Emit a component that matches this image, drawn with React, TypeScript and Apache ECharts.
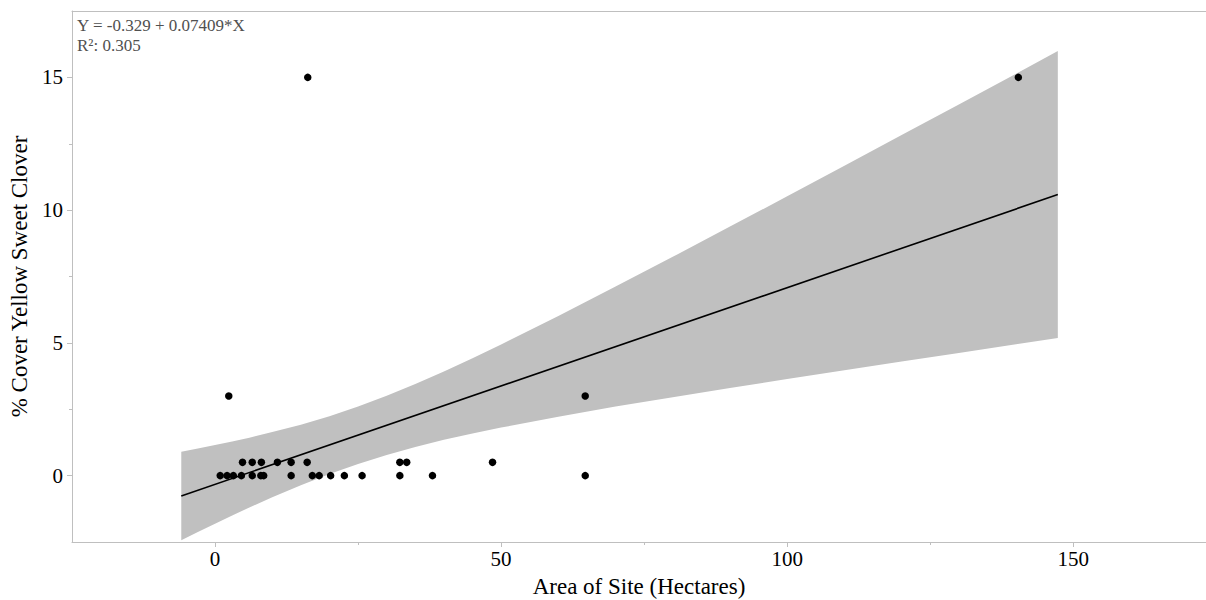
import React, { useEffect, useRef } from "react";
import * as echarts from "echarts";

// Observed points: Area of Site (Hectares) vs % Cover Yellow Sweet Clover
const siteArea = [
  0.9, 2.1, 3.2, 4.6, 6.5, 8.0, 8.5, 13.3, 17.0, 18.2, 20.2, 22.6, 25.7, 32.3, 38.0, 64.7,
  4.8, 6.5, 8.1, 10.9, 13.3, 16.1, 32.3, 33.5, 48.5,
  2.4, 16.2, 64.7, 140.4,
];
const cover = [
  0, 0, 0, 0, 0, 0, 0, 0, 0, 0, 0, 0, 0, 0, 0, 0,
  0.5, 0.5, 0.5, 0.5, 0.5, 0.5, 0.5, 0.5, 0.5,
  3, 15, 3, 15,
];

// Fitted line Y = -0.329 + 0.07409*X (drawn over the range shown)
const fitX = [-5.9, 147.3];
const fitY = [-0.766, 10.585];

// Confidence band edges
const bandX = [-5.9, -3, 0, 3, 6, 10, 15, 20, 25, 30, 35, 40, 45, 50, 60, 70, 80, 90, 100, 110, 120, 130, 140, 147.3];
const bandUpper = [0.9, 1.02, 1.15, 1.29, 1.43, 1.64, 1.92, 2.24, 2.6, 3.01, 3.45, 3.92, 4.42, 4.94, 6.01, 7.12, 8.24, 9.38, 10.52, 11.67, 12.83, 13.98, 15.14, 15.99];
const bandLower = [-2.43, -2.12, -1.81, -1.5, -1.2, -0.81, -0.36, 0.06, 0.44, 0.78, 1.08, 1.35, 1.59, 1.81, 2.22, 2.6, 2.95, 3.3, 3.64, 3.97, 4.3, 4.62, 4.95, 5.18];

const xMajorTicks = [0, 50, 100, 150];
const xMinorTicks = [25, 75, 125];
const yMajorTicks = [0, 5, 10, 15];
const yMinorTicks = [2.5, 7.5, 12.5];

const equationText = "Y = -0.329 + 0.07409*X";
const r2Text = "R²: 0.305";

const FONT = "'Liberation Serif', 'Times New Roman', serif";
const AXIS_GRAY = "#bfbfbf";

export default function App() {
  const ref = useRef<HTMLDivElement>(null);

  useEffect(() => {
    if (!ref.current) return;
    const chart = echarts.init(ref.current, null, { renderer: "svg" });
    const xRange = { min: -25, max: 173.2 };
    const yRange = { min: -2.5, max: 17.5 };

    const option: any = {
      animation: false,
      backgroundColor: "#ffffff",
      grid: { show: false, left: 72, right: 0, top: 11, bottom: 58, outerBoundsMode: "none", containLabel: false },
      xAxis: [
        {
          type: "value",
          ...xRange,
          position: "bottom",
          name: "Area of Site (Hectares)",
          nameLocation: "middle",
          nameGap: 33,
          nameTextStyle: { fontFamily: FONT, fontSize: 23, color: "#000" },
          axisLine: { show: true, onZero: false, lineStyle: { color: AXIS_GRAY, width: 1 } },
          axisTick: { show: true, length: 5, customValues: xMajorTicks, lineStyle: { color: AXIS_GRAY } },
          axisLabel: { customValues: xMajorTicks, fontFamily: FONT, fontSize: 21, color: "#000", margin: 6 },
          splitLine: { show: false },
        },
        {
          type: "value",
          ...xRange,
          position: "bottom",
          axisLine: { show: false, onZero: false },
          axisTick: { show: true, length: 3, customValues: xMinorTicks, lineStyle: { color: AXIS_GRAY } },
          axisLabel: { show: false },
          splitLine: { show: false },
        },
        {
          type: "value",
          ...xRange,
          position: "top",
          axisLine: { show: true, onZero: false, lineStyle: { color: AXIS_GRAY, width: 1 } },
          axisTick: { show: false },
          axisLabel: { show: false },
          splitLine: { show: false },
        },
      ],
      yAxis: [
        {
          type: "value",
          ...yRange,
          position: "left",
          name: "% Cover Yellow Sweet Clover",
          nameLocation: "middle",
          nameGap: 28,
          nameTextStyle: { fontFamily: FONT, fontSize: 23, color: "#000" },
          axisLine: { show: true, onZero: false, lineStyle: { color: AXIS_GRAY, width: 1 } },
          axisTick: { show: true, length: 5, customValues: yMajorTicks, lineStyle: { color: AXIS_GRAY } },
          axisLabel: { customValues: yMajorTicks, fontFamily: FONT, fontSize: 21, color: "#000", margin: 9 },
          splitLine: { show: false },
        },
        {
          type: "value",
          ...yRange,
          position: "left",
          axisLine: { show: false, onZero: false },
          axisTick: { show: true, length: 3, customValues: yMinorTicks, lineStyle: { color: AXIS_GRAY } },
          axisLabel: { show: false },
          splitLine: { show: false },
        },
      ],
      graphic: [
        {
          type: "text",
          left: 77,
          top: 15,
          silent: true,
          style: {
            text: equationText + "\n" + r2Text,
            fontFamily: FONT,
            fontSize: 17,
            lineHeight: 20,
            fill: "#505050",
          },
        },
      ],
      series: [
        {
          type: "custom",
          name: "band",
          xAxisIndex: 0,
          yAxisIndex: 0,
          silent: true,
          data: [[bandX[0], bandUpper[0]]],
          renderItem: (_params: any, api: any) => {
            const pts: number[][] = [];
            for (let i = 0; i < bandX.length; i++) pts.push(api.coord([bandX[i], bandUpper[i]]));
            for (let i = bandX.length - 1; i >= 0; i--) pts.push(api.coord([bandX[i], bandLower[i]]));
            return {
              type: "polygon",
              shape: { points: pts },
              style: { fill: "#c0c0c0", stroke: "none" },
            };
          },
          z: 1,
        },
        {
          type: "line",
          name: "fit",
          xAxisIndex: 0,
          yAxisIndex: 0,
          data: fitX.map((x, i) => [x, fitY[i]]),
          showSymbol: false,
          symbol: "none",
          lineStyle: { color: "#000", width: 1.6 },
          z: 2,
        },
        {
          type: "scatter",
          name: "sites",
          xAxisIndex: 0,
          yAxisIndex: 0,
          data: siteArea.map((x, i) => [x, cover[i]]),
          symbol: "circle",
          symbolSize: 7.5,
          itemStyle: { color: "#000", opacity: 1 },
          z: 3,
        },
      ],
    };
    chart.setOption(option);
    return () => chart.dispose();
  }, []);

  return (
    <div
      ref={ref}
      style={{ position: "absolute", left: 0, top: 0, width: 1206, height: 600, background: "#fff" }}
    />
  );
}
